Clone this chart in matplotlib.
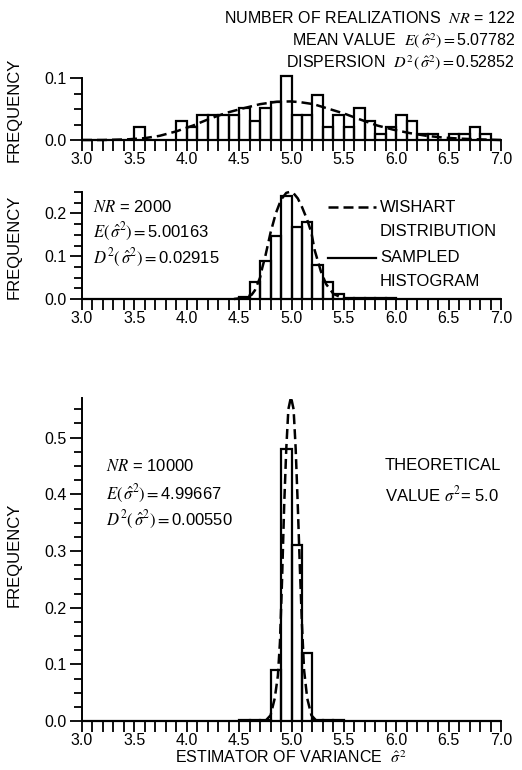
import numpy as np
import matplotlib
matplotlib.use("Agg")
import matplotlib.pyplot as plt
from matplotlib.ticker import MultipleLocator

plt.rcParams['font.family'] = ['Liberation Sans', 'DejaVu Sans']
plt.rcParams['mathtext.fontset'] = 'stix'

# ===== DONNEES =====
bin_left = [round(3.0 + 0.1 * i, 1) for i in range(40)]

# NR = 122
freq_122 = [0, 0, 0, 0, 0, 0.021, 0, 0, 0, 0.031,
            0.021, 0.041, 0.041, 0.041, 0.041, 0.052, 0.031, 0.052, 0.062, 0.103,
            0.041, 0.041, 0.072, 0.021, 0.041, 0.021, 0.052, 0.031, 0.010, 0.021,
            0.041, 0.031, 0.010, 0.010, 0, 0.010, 0.010, 0.021, 0.010, 0]
wish_122_x = [3.0, 3.2, 3.43, 3.6, 3.74, 3.90, 4.06, 4.22, 4.38, 4.54, 4.70, 4.86, 4.99,
              5.08, 5.21, 5.34, 5.50, 5.66, 5.82, 5.97, 6.13, 6.29, 6.45, 6.61, 6.77, 7.0]
wish_122_y = [0.0, 0.0, 0.001, 0.003, 0.0067, 0.0139, 0.0233, 0.0344, 0.0439, 0.0511,
              0.0578, 0.0617, 0.0622, 0.0611, 0.0578, 0.0511, 0.0428, 0.0328, 0.0233,
              0.0167, 0.0111, 0.0067, 0.0039, 0.0022, 0.0011, 0.0]

# NR = 2000
freq_2000 = [0, 0, 0, 0, 0, 0, 0, 0, 0, 0,
             0, 0, 0, 0, 0.001, 0.005, 0.039, 0.089, 0.148, 0.240,
             0.168, 0.179, 0.080, 0.039, 0.012, 0.003, 0.002, 0.002, 0.002, 0.002,
             0, 0, 0, 0, 0, 0, 0, 0, 0, 0]
wish_2000_x = [4.45, 4.55, 4.62, 4.65, 4.70, 4.72, 4.75, 4.80, 4.85, 4.90, 4.95, 4.98,
               5.02, 5.06, 5.10, 5.15, 5.19, 5.22, 5.25, 5.28, 5.33, 5.40, 5.48, 5.55]
wish_2000_y = [0.0, 0.003, 0.010, 0.020, 0.050, 0.072, 0.100, 0.155, 0.200, 0.232,
               0.248, 0.250, 0.247, 0.235, 0.215, 0.185, 0.155, 0.115, 0.090, 0.065,
               0.035, 0.012, 0.003, 0.0]

# NR = 10000
freq_10000 = [0, 0, 0, 0, 0, 0, 0, 0, 0, 0,
              0, 0, 0, 0, 0, 0.002, 0.002, 0.002, 0.090, 0.480,
              0.310, 0.120, 0.002, 0.002, 0.002, 0, 0, 0, 0, 0,
              0, 0, 0, 0, 0, 0, 0, 0, 0, 0]
wish_10000_x = [4.75, 4.80, 4.84, 4.87, 4.89, 4.91, 4.93, 4.95, 4.97, 4.995, 5.02,
                5.04, 5.06, 5.08, 5.10, 5.12, 5.15, 5.19, 5.24]
wish_10000_y = [0.0, 0.01, 0.04, 0.08, 0.14, 0.25, 0.38, 0.48, 0.55, 0.572, 0.55,
                0.48, 0.38, 0.27, 0.17, 0.09, 0.04, 0.01, 0.0]

x_ticks = [3.0, 3.5, 4.0, 4.5, 5.0, 5.5, 6.0, 6.5, 7.0]

W, H = 522, 770
fig = plt.figure(figsize=(W / 100, H / 100), dpi=100)


def panel(y_zero, y_top, ytop_val, ymax_ticks, ylab_y):
    # position en pixels -> fraction de figure
    h = y_zero - y_top
    ax = fig.add_axes([82 / W, 1 - y_zero / H, (501 - 82) / W, h / H])
    ax.set_xlim(3.0, 7.0)
    ax.set_ylim(0, ytop_val)
    for s in ['top', 'right']:
        ax.spines[s].set_visible(False)
    for s in ['left', 'bottom']:
        ax.spines[s].set_linewidth(1.4)
    ax.set_xticks(x_ticks)
    ax.set_xticklabels([f"{v:.1f}" for v in x_ticks])
    ax.xaxis.set_minor_locator(MultipleLocator(0.1))
    ax.set_yticks(ymax_ticks)
    ax.set_yticklabels([f"{v:.1f}" for v in ymax_ticks])
    ax.yaxis.set_minor_locator(MultipleLocator(0.025))
    ax.tick_params(axis='x', which='both', direction='out', length=8, width=1.3,
                   labelsize=11.5, pad=0.5)
    ax.tick_params(axis='y', which='major', direction='out', length=9, width=1.3,
                   labelsize=11.5, pad=2)
    ax.tick_params(axis='y', which='minor', direction='out', length=6, width=1.3)
    ax.set_ylabel('FREQUENCY', fontsize=12)
    ax.yaxis.set_label_coords((22 - 82) / 419, (y_zero - ylab_y) / h)
    ax.patch.set_alpha(0)
    return ax


def draw(ax, freq, cx, cy):
    ax.bar(bin_left, freq, width=0.1, align='edge', fill=False, edgecolor='black',
           linewidth=1.6, clip_on=False)
    ax.plot(cx, cy, color='black', linestyle=(0, (4, 2)), linewidth=1.8, clip_on=False)


ax1 = panel(140, 78, 0.1, [0.0, 0.1], 110)
draw(ax1, freq_122, wish_122_x, wish_122_y)

ax2 = panel(299, 192, 0.25, [0.0, 0.1, 0.2], 247)
draw(ax2, freq_2000, wish_2000_x, wish_2000_y)

ax3 = panel(721, 398, 0.57, [0.0, 0.1, 0.2, 0.3, 0.4, 0.5], 555)
draw(ax3, freq_10000, wish_10000_x, wish_10000_y)

# ===== TEXTES =====
fs = 12
fig.text(291 / W, 1 - 763 / H, r'ESTIMATOR OF VARIANCE  $\hat{\sigma}^{\,2}$', ha='center', va='baseline', fontsize=11.5)

fig.text(515 / W, 1 - 18 / H, r'NUMBER OF REALIZATIONS  $NR$ = 122', ha='right', va='center', fontsize=11.5)
fig.text(515 / W, 1 - 41 / H, r'MEAN VALUE  $E(\,\hat{\sigma}^2) = $5.07782', ha='right', va='center', fontsize=11.5)
fig.text(515 / W, 1 - 63 / H, r'DISPERSION  $D^2(\,\hat{\sigma}^2) = $0.52852', ha='right', va='center', fontsize=11.5)

fig.text(93 / W, 1 - 207 / H, r'$NR$ = 2000', ha='left', va='center', fontsize=fs)
fig.text(93 / W, 1 - 232 / H, r'$E(\,\hat{\sigma}^2) = $5.00163', ha='left', va='center', fontsize=fs)
fig.text(93 / W, 1 - 258 / H, r'$D^2(\,\hat{\sigma}^2) = $0.02915', ha='left', va='center', fontsize=fs)

fig.lines.append(plt.Line2D([328 / W, 376 / W], [1 - 207 / H, 1 - 207 / H], transform=fig.transFigure,
                            color='black', linestyle=(0, (4, 2)), linewidth=1.8))
fig.lines.append(plt.Line2D([328 / W, 376 / W], [1 - 258 / H, 1 - 258 / H], transform=fig.transFigure,
                            color='black', linewidth=1.6))
fig.text(380 / W, 1 - 207 / H, 'WISHART', ha='left', va='center', fontsize=fs)
fig.text(380 / W, 1 - 232 / H, 'DISTRIBUTION', ha='left', va='center', fontsize=fs)
fig.text(380 / W, 1 - 258 / H, 'SAMPLED', ha='left', va='center', fontsize=fs)
fig.text(380 / W, 1 - 282 / H, 'HISTOGRAM', ha='left', va='center', fontsize=fs)

fig.text(106 / W, 1 - 466 / H, r'$NR$ = 10000', ha='left', va='center', fontsize=fs)
fig.text(106 / W, 1 - 494 / H, r'$E(\,\hat{\sigma}^2) = $4.99667', ha='left', va='center', fontsize=fs)
fig.text(106 / W, 1 - 520 / H, r'$D^2(\,\hat{\sigma}^2) = $0.00550', ha='left', va='center', fontsize=fs)

fig.text(385 / W, 1 - 466 / H, 'THEORETICAL', ha='left', va='center', fontsize=fs)
fig.text(385 / W, 1 - 494 / H, r'VALUE $\sigma^2$= 5.0', ha='left', va='center', fontsize=fs)

fig.savefig('out.png', dpi=100)
